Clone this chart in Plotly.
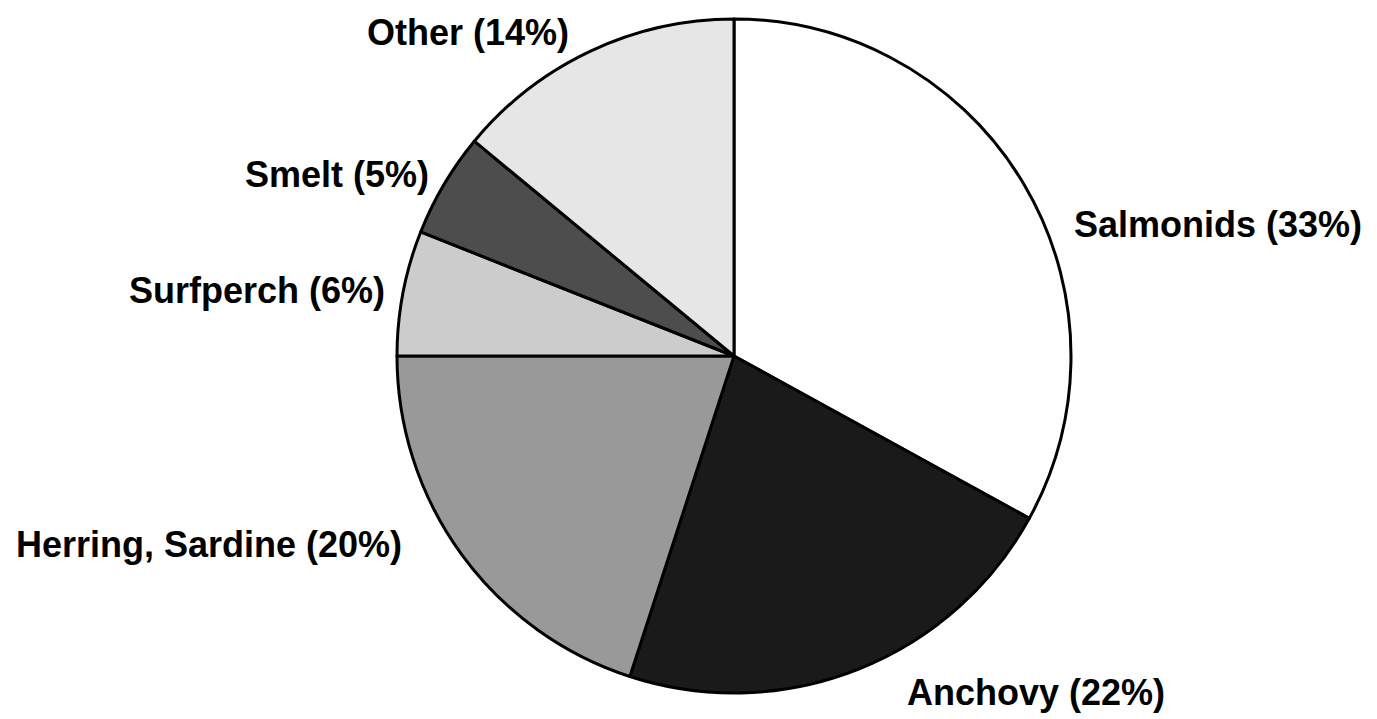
import plotly.graph_objects as go

categories = ["Salmonids", "Anchovy", "Herring, Sardine", "Surfperch", "Smelt", "Other"]
values = [33, 22, 20, 6, 5, 14]
colors = ["#ffffff", "#1a1a1a", "#999999", "#cccccc", "#4d4d4d", "#e6e6e6"]

# Figure size (page body has an 8px default margin)
W, H = 1369, 711
cx, cy, r = 726, 348, 337

# label anchor positions (pixels in figure space), same order as categories
label_px = [(1210, 216), (1028, 684), (201, 536), (249, 282), (329, 166), (460, 24)]

fig = go.Figure(go.Pie(
    labels=categories,
    values=values,
    sort=False,
    direction="clockwise",
    rotation=0,
    marker=dict(colors=colors, line=dict(color="#000000", width=3)),
    textinfo="none",
    showlegend=False,
    hoverinfo="skip",
    domain=dict(x=[(cx - r) / W, (cx + r) / W], y=[(H - cy - r) / H, (H - cy + r) / H]),
))

for name, val, (px, py) in zip(categories, values, label_px):
    fig.add_annotation(
        text=f"<b>{name} ({val}%)</b>",
        x=px / W, y=1 - py / H, xref="paper", yref="paper",
        xanchor="center", yanchor="middle", showarrow=False, borderpad=0,
        font=dict(family="Liberation Sans, Arial", size=36, color="#000000"),
    )

fig.update_layout(
    width=W, height=H,
    margin=dict(l=0, r=0, t=0, b=0),
    paper_bgcolor="#ffffff",
    plot_bgcolor="#ffffff",
)
fig.write_html("out.html")
